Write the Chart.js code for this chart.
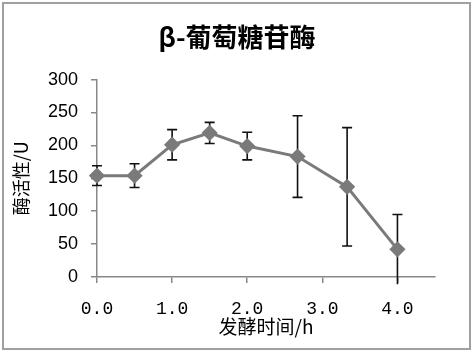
<!DOCTYPE html>
<html>
<head>
<meta charset="utf-8">
<script src="https://cdn.jsdelivr.net/npm/chart.js@4.4.0/dist/chart.umd.min.js"></script>
<style>
  html, body { margin: 0; padding: 0; background: #fff; }
  #wrap { width: 474px; height: 354px; position: relative; }
</style>
</head>
<body>
<div id="wrap"><canvas id="chart" width="474" height="354"></canvas></div>
<script>
// Data
const hours = [0, 0.5, 1.0, 1.5, 2.0, 2.67, 3.33, 4.0];
const activity = [154, 154, 201, 219, 199, 183, 137, 42];
const errors = [15, 18, 23, 16, 21, 62, 90, 53];
const xTicks = [0, 1, 2, 3, 4];
const yTicks = [0, 50, 100, 150, 200, 250, 300];

const cjk = '"Noto Sans CJK SC", "Noto Sans", sans-serif';

// error bars, drawn through the chart scales
const errorBars = {
    id: 'errorBars',
    beforeDatasetsDraw(chart) {
        const { ctx, scales: { x, y } } = chart;
        ctx.save();
        ctx.strokeStyle = '#111';
        ctx.lineWidth = 1.6;
        hours.forEach((h, i) => {
            const px = x.getPixelForValue(h);
            const top = y.getPixelForValue(activity[i] + errors[i]);
            const bot = y.getPixelForValue(activity[i] - errors[i]);
            ctx.beginPath();
            ctx.moveTo(px, top); ctx.lineTo(px, bot);
            ctx.moveTo(px - 5, top); ctx.lineTo(px + 5, top);
            if (activity[i] - errors[i] >= 0) {
                ctx.moveTo(px - 5, bot); ctx.lineTo(px + 5, bot);
            }
            ctx.stroke();
        });
        ctx.restore();
    }
};

// white background and the grey frame round the picture
const frame = {
    id: 'frame',
    beforeDraw(chart) {
        const ctx = chart.ctx;
        ctx.save();
        ctx.fillStyle = '#fff';
        ctx.fillRect(0, 0, chart.width, chart.height);
        ctx.strokeStyle = '#a0a0a0';
        ctx.lineWidth = 2;
        ctx.strokeRect(3, 3, 467, 346);
        ctx.restore();
    }
};

new Chart(document.getElementById('chart'), {
    type: 'scatter',
    data: {
        datasets: [{
            data: hours.map((h, i) => ({ x: h, y: activity[i] })),
            showLine: true,
            borderColor: '#7a7a7a',
            borderWidth: 3,
            pointStyle: 'rectRot',
            pointRadius: 6,
            pointBackgroundColor: '#7a7a7a',
            pointBorderColor: '#7a7a7a',
            clip: false
        }]
    },
    options: {
        responsive: false,
        animation: false,
        layout: { padding: 0 },
        plugins: {
            legend: { display: false },
            tooltip: { enabled: false },
            title: {
                display: true,
                text: 'β-葡萄糖苷酶',
                color: '#000',
                font: { family: cjk, size: 26, weight: 'bold', lineHeight: 1.2 },
                padding: { top: 22, bottom: 26.4 }
            }
        },
        scales: {
            x: {
                type: 'linear',
                min: 0,
                max: 4.5,
                afterBuildTicks: s => { s.ticks = xTicks.map(v => ({ value: v })); },
                afterFit: s => { s.height = 77; },
                border: { color: '#888', width: 1.5 },
                grid: { drawOnChartArea: false, tickLength: 6, color: '#888', lineWidth: 1.5 },
                ticks: {
                    color: '#000',
                    padding: 15,
                    maxRotation: 0,
                    font: { family: '"Liberation Mono", monospace', size: 18 },
                    callback: v => Number(v).toFixed(1)
                },
                title: {
                    display: true,
                    text: '发酵时间/h',
                    color: '#000',
                    font: { family: cjk, size: 19 },
                    padding: { top: 0, bottom: 16 }
                }
            },
            y: {
                min: 0,
                max: 300,
                afterBuildTicks: s => { s.ticks = yTicks.map(v => ({ value: v })); },
                afterFit: s => { s.width = 97; },
                border: { color: '#888', width: 1.5 },
                grid: { drawOnChartArea: false, tickLength: 6, color: '#888', lineWidth: 1.5 },
                ticks: {
                    color: '#000',
                    padding: 13,
                    font: { family: '"Liberation Sans", Arial, sans-serif', size: 18 }
                },
                title: {
                    display: true,
                    text: '酶活性/U',
                    color: '#000',
                    font: { family: cjk, size: 18 },
                    padding: { top: 10, bottom: 0 }
                }
            },
            // empty right-hand axis that only keeps the space right of the plot
            spacer: {
                position: 'right',
                afterFit: s => { s.width = 39; },
                border: { display: false },
                grid: { display: false },
                ticks: { display: false }
            }
        }
    },
    plugins: [frame, errorBars]
});
</script>
</body>
</html>
